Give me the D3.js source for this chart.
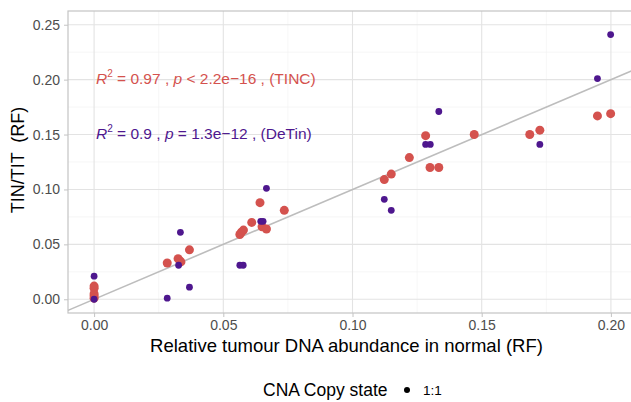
<!DOCTYPE html>
<html>
<head>
<meta charset="utf-8">
<title>TIN/TIT vs tumour DNA abundance</title>
<script src="https://d3js.org/d3.v7.min.js"></script>
<style>
  body { margin: 0; background: #fff; }
  text { font-family: "Liberation Sans", Arial, sans-serif; }
</style>
</head>
<body>
<div id="chart"></div>
<script>
// Data (RF values)
const detinX = [0.000, 0.000, 0.0283, 0.0327, 0.0334, 0.0369, 0.0564, 0.0577, 0.0645, 0.0654, 0.0667,
                0.1123, 0.1150, 0.1283, 0.1301, 0.1334, 0.1725, 0.1948, 0.1999];
const detinY = [0.021, 0.000, 0.001, 0.031, 0.061, 0.011, 0.031, 0.031, 0.071, 0.071, 0.101,
                0.091, 0.081, 0.141, 0.141, 0.171, 0.141, 0.201, 0.241];
const tincX = [0.000, 0.000, 0.000, 0.000, 0.000, 0.0283, 0.0325, 0.0332, 0.0336, 0.0369,
               0.0564, 0.0570, 0.0578, 0.0610, 0.0642, 0.0650, 0.0667, 0.0736,
               0.1123, 0.1150, 0.1220, 0.1283, 0.1300, 0.1334, 0.1471,
               0.1686, 0.1725, 0.1948, 0.1999];
const tincY = [0.012, 0.010, 0.005, 0.003, 0.001, 0.033, 0.037, 0.035, 0.034, 0.045,
               0.059, 0.061, 0.063, 0.070, 0.088, 0.066, 0.064, 0.081,
               0.109, 0.114, 0.129, 0.149, 0.120, 0.120, 0.150,
               0.150, 0.154, 0.167, 0.169];
const xTicks = [0, 0.05, 0.10, 0.15, 0.20];
const yTicks = [0, 0.05, 0.10, 0.15, 0.20, 0.25];
const xMinor = [0.025, 0.075, 0.125, 0.175];
const yMinor = [0.025, 0.075, 0.125, 0.175, 0.225];

const width = 631, height = 402;
const margin = {top: 11, right: -6, bottom: 89, left: 68};
const tincColor = "#d4524e", detinColor = "#4e178e";

const svg = d3.select("#chart").append("svg")
  .attr("width", width).attr("height", height);

const x = d3.scaleLinear().domain([-0.0101, 0.2101]).range([margin.left, width - margin.right]);
const y = d3.scaleLinear().domain([-0.0125, 0.2625]).range([height - margin.bottom, margin.top]);

const panel = svg.append("g");

// minor grid
panel.selectAll("line.xminor").data(xMinor).enter().append("line")
  .attr("x1", d => x(d)).attr("x2", d => x(d))
  .attr("y1", y.range()[0]).attr("y2", y.range()[1])
  .attr("stroke", "#f0f0f0").attr("stroke-width", 0.6);
panel.selectAll("line.yminor").data(yMinor).enter().append("line")
  .attr("y1", d => y(d)).attr("y2", d => y(d))
  .attr("x1", x.range()[0]).attr("x2", x.range()[1])
  .attr("stroke", "#f0f0f0").attr("stroke-width", 0.6);
// major grid
panel.selectAll("line.xmajor").data(xTicks).enter().append("line")
  .attr("x1", d => x(d)).attr("x2", d => x(d))
  .attr("y1", y.range()[0]).attr("y2", y.range()[1])
  .attr("stroke", "#e3e3e3").attr("stroke-width", 1.1);
panel.selectAll("line.ymajor").data(yTicks).enter().append("line")
  .attr("y1", d => y(d)).attr("y2", d => y(d))
  .attr("x1", x.range()[0]).attr("x2", x.range()[1])
  .attr("stroke", "#e3e3e3").attr("stroke-width", 1.1);

// panel border
panel.append("rect")
  .attr("x", x.range()[0]).attr("y", y.range()[1])
  .attr("width", x.range()[1] - x.range()[0]).attr("height", y.range()[0] - y.range()[1])
  .attr("fill", "none").attr("stroke", "#c4c4c4").attr("stroke-width", 1.2);

// identity line
const lineX = x.domain();
panel.append("line")
  .attr("x1", x(lineX[0])).attr("y1", y(lineX[0]))
  .attr("x2", x(lineX[1])).attr("y2", y(lineX[1]))
  .attr("stroke", "#bdbdbd").attr("stroke-width", 1.6);

// points
panel.selectAll("circle.tinc").data(tincX).enter().append("circle")
  .attr("cx", d => x(d)).attr("cy", (d, i) => y(tincY[i]))
  .attr("r", 4.5).attr("fill", tincColor);
panel.selectAll("circle.detin").data(detinX).enter().append("circle")
  .attr("cx", d => x(d)).attr("cy", (d, i) => y(detinY[i]))
  .attr("r", 3.4).attr("fill", detinColor);

// axes
const xAxis = svg.append("g").attr("transform", `translate(0,${y.range()[0]})`)
  .call(d3.axisBottom(x).tickValues(xTicks).tickFormat(d3.format(".2f")).tickSize(4).tickPadding(3));
const yAxis = svg.append("g").attr("transform", `translate(${margin.left},0)`)
  .call(d3.axisLeft(y).tickValues(yTicks).tickFormat(d3.format(".2f")).tickSize(4).tickPadding(4));
[xAxis, yAxis].forEach(a => {
  a.select(".domain").remove();
  a.selectAll(".tick line").attr("stroke", "#c4c4c4");
  a.selectAll(".tick text").attr("fill", "#4d4d4d").style("font-size", "14px")
    .style("font-family", "'Liberation Sans', Arial, sans-serif");
});

// axis titles
svg.append("text")
  .attr("x", 346.5).attr("y", 352)
  .attr("text-anchor", "middle").style("font-size", "18.5px")
  .text("Relative tumour DNA abundance in normal (RF)");
svg.append("text")
  .attr("transform", `translate(24,160) rotate(-90)`)
  .attr("text-anchor", "middle").style("font-size", "18px")
  .attr("xml:space", "preserve")
  .text("TIN/TIT  (RF)");

// annotations
function annot(yPos, color, r2, op, p, label) {
  const t = svg.append("text").attr("x", 96).attr("y", yPos)
    .attr("fill", color).style("font-size", "15.5px")
    .attr("xml:space", "preserve");
  t.append("tspan").style("font-style", "italic").text("R");
  t.append("tspan").attr("dy", -7).style("font-size", "10px").text("2");
  t.append("tspan").attr("dy", 7).text(" = " + r2 + " , ");
  t.append("tspan").style("font-style", "italic").text("p");
  t.append("tspan").text(" " + op + " " + p + " , (" + label + ")");
}
annot(84, tincColor, "0.97", "<", "2.2e\u221216", "TINC");
annot(139, detinColor, "0.9", "=", "1.3e\u221212", "DeTin");

// legend
svg.append("text").attr("x", 263).attr("y", 396)
  .style("font-size", "17.5px").text("CNA Copy state");
svg.append("circle").attr("cx", 407).attr("cy", 390).attr("r", 3).attr("fill", "#000");
svg.append("text").attr("x", 423).attr("y", 395)
  .style("font-size", "13.5px").text("1:1");
</script>
</body>
</html>
